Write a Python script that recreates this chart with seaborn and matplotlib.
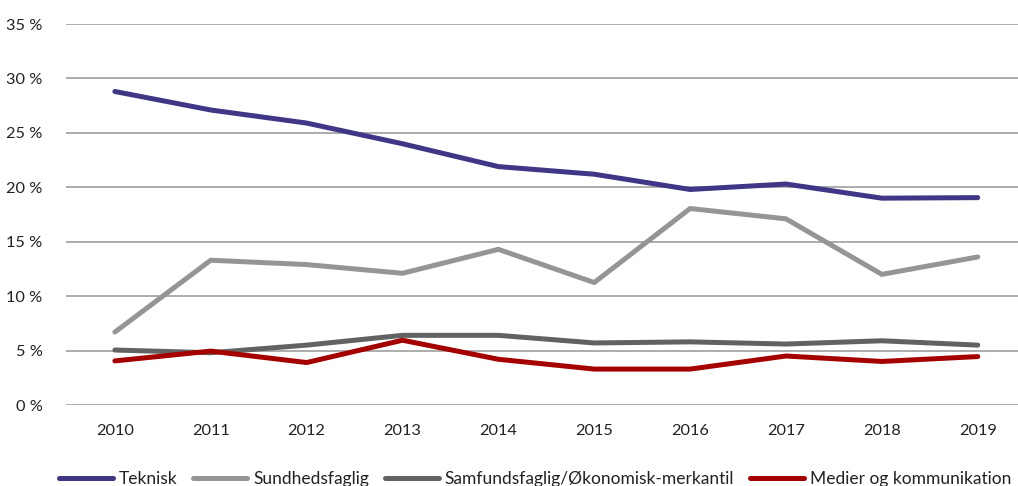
import matplotlib
matplotlib.use("Agg")
import matplotlib.pyplot as plt
import seaborn as sns
import pandas as pd
from matplotlib.ticker import FuncFormatter

years = [2010, 2011, 2012, 2013, 2014, 2015, 2016, 2017, 2018, 2019]
teknisk = [28.8, 27.1, 25.9, 24.0, 21.9, 21.2, 19.8, 20.3, 19.0, 19.05]
sundhed = [6.7, 13.3, 12.9, 12.1, 14.3, 11.25, 18.05, 17.1, 12.0, 13.6]
samfund = [5.05, 4.8, 5.5, 6.4, 6.4, 5.7, 5.8, 5.6, 5.9, 5.5]
medier = [4.05, 4.95, 3.9, 5.95, 4.2, 3.3, 3.3, 4.5, 4.0, 4.45]
series_names = ["Teknisk", "Sundhedsfaglig", "Samfundsfaglig/Økonomisk-merkantil", "Medier og kommunikation"]
colors = ["#3f3685", "#959595", "#626262", "#a50000"]
yticks = [0, 5, 10, 15, 20, 25, 30, 35]

df = pd.concat([
    pd.DataFrame({"year": years, "value": vals, "series": name})
    for name, vals in zip(series_names, [teknisk, sundhed, samfund, medier])
])

sns.set_theme(style="white")
plt.rcParams["font.family"] = ["Lato", "DejaVu Sans"]

fig = plt.figure(figsize=(10.18, 4.86), dpi=100)
ax = fig.add_axes([66/1018, 1-405/486, (1018-66)/1018, (405-24)/486])

sns.lineplot(data=df, x="year", y="value", hue="series", palette=colors,
             hue_order=series_names, linewidth=3.6, ax=ax, legend=False,
             solid_capstyle="round")

ax.set_xlim(2009.49, 2019.42)
ax.set_ylim(0, 35)
ax.set_yticks(yticks)
ax.set_xticks(years)
ax.yaxis.set_major_formatter(FuncFormatter(lambda v, p: f"{int(v)} %"))
ax.grid(axis="y", color="#a6a6a6", linewidth=1.3)
ax.set_axisbelow(True)
for s in ax.spines.values():
    s.set_visible(False)
ax.tick_params(axis="both", length=0, labelsize=11.8, colors="#222222")
ax.tick_params(axis="y", pad=17)
ax.tick_params(axis="x", pad=14)
ax.set_xlabel("")
ax.set_ylabel("")

handles = [plt.Line2D([], [], color=c, linewidth=3.6, solid_capstyle="round") for c in colors]
fig.legend(handles, series_names, loc="center", bbox_to_anchor=(0.5256, 1-479/486),
           ncol=4, frameon=False, fontsize=12.5, handlelength=3.1, handletextpad=0.35,
           columnspacing=0.9, labelcolor="#222222")

fig.savefig("out.png", dpi=100)
